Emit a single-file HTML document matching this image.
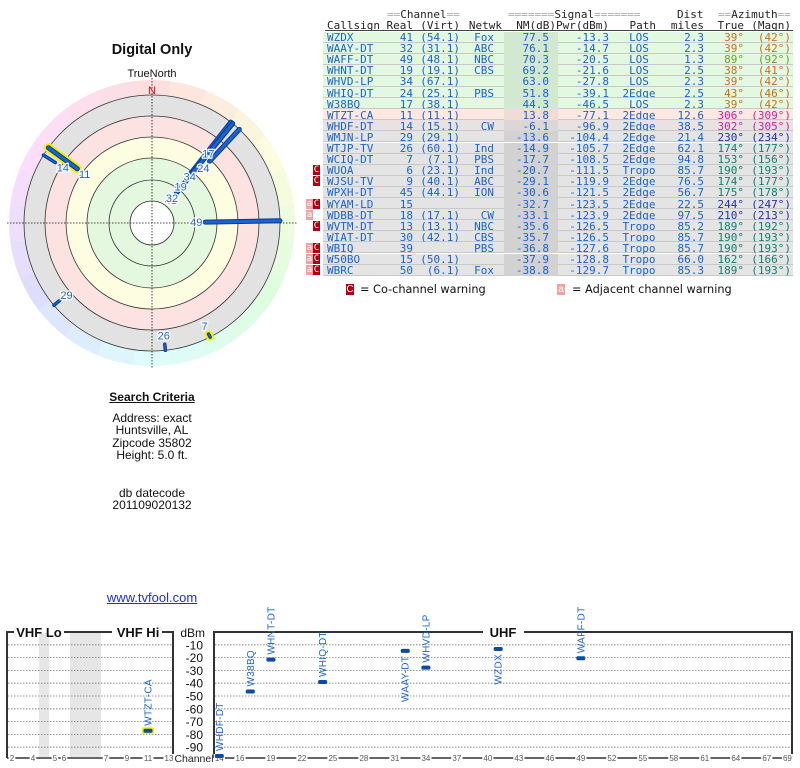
<!DOCTYPE html>
<html><head><meta charset="utf-8">
<style>
body{margin:0;background:#fff;width:800px;height:768px;position:relative;overflow:hidden;font-family:"Liberation Sans",sans-serif}
.c{position:absolute;text-align:center;width:300px;left:2px;font-size:12px;color:#111}
svg{position:absolute;left:0;top:0}
.cell{position:absolute;white-space:pre}
</style></head>
<body>
<div class="c" style="top:42px;font-size:14.5px;font-weight:bold">Digital Only</div>
<div class="c" style="top:390px;font-weight:bold"><span style="text-decoration:underline">Search Criteria</span></div>
<div class="c" style="top:412px;line-height:12.4px">Address: exact<br>Huntsville, AL<br>Zipcode 35802<br>Height: 5.0 ft.</div>
<div class="c" style="top:487px;line-height:12.4px">db datecode<br>201109020132</div>
<div class="c" style="top:590px;font-size:13px"><span style="color:#2030d0;text-decoration:underline">www.tvfool.com</span></div>

<svg id="polar" width="800" height="768"></svg>

<div id="table"></div>

<div style="position:absolute;left:346px;top:284px;width:8px;height:11px;background:#b00010;color:#fff;font-size:10px;line-height:11px;text-align:center">C</div>
<div style="position:absolute;left:360px;top:283px;font-size:11.3px;color:#111;font-family:'DejaVu Sans',sans-serif">= Co-channel warning</div>
<div style="position:absolute;left:557px;top:284px;width:8px;height:11px;background:#f4a0a0;color:#fff;font-size:10px;line-height:11px;text-align:center">a</div>
<div style="position:absolute;left:572px;top:283px;font-size:11.3px;color:#111;font-family:'DejaVu Sans',sans-serif">= Adjacent channel warning</div>

<svg id="spec" width="800" height="768"></svg>

<script>
// ===== Table data =====
const callsigns=["WZDX","WAAY-DT","WAFF-DT","WHNT-DT","WHVD-LP","WHIQ-DT","W38BQ","WTZT-CA","WHDF-DT","WMJN-LP","WTJP-TV","WCIQ-DT","WUOA","WJSU-TV","WPXH-DT","WYAM-LD","WDBB-DT","WVTM-DT","WIAT-DT","WBIQ","W50BO","WBRC"];
const realCh=[41,32,49,19,34,24,17,11,14,29,26,7,6,9,45,15,18,13,30,39,15,50];
const virtCh=["(54.1)","(31.1)","(48.1)","(19.1)","(67.1)","(25.1)","(38.1)","(11.1)","(15.1)","(29.1)","(60.1)","(7.1)","(23.1)","(40.1)","(44.1)","","(17.1)","(13.1)","(42.1)","","(50.1)","(6.1)"];
const netwk=["Fox","ABC","NBC","CBS","","PBS","","","CW","","Ind","PBS","Ind","ABC","ION","","CW","NBC","CBS","PBS","","Fox"];
const nmDb=[77.5,76.1,70.3,69.2,63.0,51.8,44.3,13.8,-6.1,-13.6,-14.9,-17.7,-20.7,-29.1,-30.6,-32.7,-33.1,-35.6,-35.7,-36.8,-37.9,-38.8];
const pwrDbm=[-13.3,-14.7,-20.5,-21.6,-27.8,-39.1,-46.5,-77.1,-96.9,-104.4,-105.7,-108.5,-111.5,-119.9,-121.5,-123.5,-123.9,-126.5,-126.5,-127.6,-128.8,-129.7];
const pathT=["LOS","LOS","LOS","LOS","LOS","2Edge","LOS","2Edge","2Edge","2Edge","2Edge","2Edge","Tropo","2Edge","2Edge","2Edge","2Edge","Tropo","Tropo","Tropo","Tropo","Tropo"];
const distMi=["2.3","2.3","1.3","2.5","2.3","2.5","2.3","12.6","38.5","21.4","62.1","94.8","85.7","76.5","56.7","22.5","97.5","85.2","85.7","85.7","66.0","85.3"];
const azTrue=[39,39,89,38,39,43,39,306,302,230,174,153,190,174,175,244,210,189,190,190,162,189];
const azMagn=[42,42,92,41,42,46,42,309,305,234,177,156,193,177,178,247,213,192,193,193,166,193];
const warnA=[0,0,0,0,0,0,0,0,0,0,0,0,0,0,0,1,1,0,0,1,1,1];
const warnC=[0,0,0,0,0,0,0,0,0,0,0,0,1,1,0,1,0,1,0,1,1,1];

function azColor(a){
  if(a<60) return a>=43?"#c07010":"#c87020";
  if(a<120) return "#70a020";
  if(a<200) return "#108070";
  if(a<260) return "#2830a8";
  return "#d020a0";
}
const tb=document.getElementById('table');
function add(parent,html,style,name){const d=document.createElement('div');d.className='cell';d.style.cssText=style;d.innerHTML=html;


parent.appendChild(d);return d;}
const MONO='font-family:"DejaVu Sans Mono","Liberation Mono",monospace;font-size:11px;';
const H='position:absolute;'+MONO+'color:#222;white-space:pre;line-height:11px;';
add(tb,'<span style="color:#aaa">==</span>Channel<span style="color:#aaa">==</span>',H+'left:387px;top:9px','channel-header');
add(tb,'<span style="color:#aaa">=======</span>Signal<span style="color:#aaa">=======</span>',H+'left:508px;top:9px','signal-header');
add(tb,'Dist',H+'left:677px;top:9px','dist-header');
add(tb,'<span style="color:#aaa">==</span>Azimuth<span style="color:#aaa">==</span>',H+'left:718px;top:9px','azimuth-header');
add(tb,'Callsign',H+'left:327px;top:20px','callsign-header');
const hdr2=[["Real",413],["(Virt)",460],["Netwk",502],["NM(dB)",556],["Pwr(dBm)",609],["Path",656],["miles",704],["True",744],["(Magn)",791]];
hdr2.forEach(h=>add(tb,h[0],H+'top:20px;right:'+(800-h[1])+'px','col-header'));
add(tb,'',`position:absolute;left:325px;top:30px;width:468px;height:1px;background:#444`,'header-rule');
const top0=31.5,rh=11.1;
callsigns.forEach((cs,i)=>{
  const y=top0+i*rh;
  const green=i<7, pink=i===7, pg=i===8;
  const bg=green?"#e2f8e0":pink?"#fde8e2":pg?"#e8e2e2":"#e4e4e4";
  const nmbg=green?"#d2e8d0":pink?"#f0dcd6":pg?"#dcd6d6":"#d2d2d2";
  add(tb,'',`position:absolute;left:323px;top:${y}px;width:470px;height:${rh-1}px;background:${bg};border-bottom:1px solid #c8c8c8`,'table-row');
  add(tb,'',`position:absolute;left:504px;top:${y}px;width:54px;height:${rh}px;background:${nmbg}`,'nm-cell-bg');
  const F='position:absolute;'+MONO+'line-height:11px;color:#1a62d0;white-space:pre;top:'+(y+0.5)+'px;';
  add(tb,cs,F+'left:327px','callsign');
  add(tb,String(realCh[i]),F+'right:'+(800-413)+'px','real-channel');
  add(tb,virtCh[i],F+'right:'+(800-460)+'px','virtual-channel');
  add(tb,netwk[i],F+'right:'+(800-494)+'px','network');
  add(tb,nmDb[i].toFixed(1),F+'right:'+(800-549)+'px','noise-margin');
  add(tb,pwrDbm[i].toFixed(1),F+'right:'+(800-609)+'px','power');
  add(tb,pathT[i],F+'left:'+(639-pathT[i].length*3.31)+'px','path');
  add(tb,distMi[i],F+'right:'+(800-704)+'px','distance');
  const col=azColor(azTrue[i]);
  add(tb,azTrue[i]+'°',F+'right:'+(800-744)+'px;color:'+col,'azimuth-true');
  add(tb,'('+azMagn[i]+'°)',F+'right:'+(800-791)+'px;color:'+col,'azimuth-magnetic');
  if(warnC[i]) add(tb,'C',`position:absolute;left:313px;top:${y+0.5}px;width:7px;height:10px;background:#b00010;color:#fff;font-size:9px;line-height:10px;text-align:center;font-family:"DejaVu Sans Mono",monospace`,'cochannel-warning');
  if(warnA[i]) add(tb,'a',`position:absolute;left:306px;top:${y+0.5}px;width:7px;height:10px;background:#f4a0a0;color:#fff;font-size:9px;line-height:10px;text-align:center;font-family:"DejaVu Sans Mono",monospace`,'adjacent-warning');
});

// ===== Polar plot =====
const polarCh=[41,32,49,19,34,24,17,11,14,29,26,7];
const polarNm=[77.5,76.1,70.3,69.2,63.0,51.8,44.3,13.8,-6.1,-13.6,-14.9,-17.7];
const polarAz=[39,39,89,38,39,43,39,306,302,230,174,153];
const polarVhf=[0,0,0,0,0,0,0,1,0,0,0,1];
const NS="http://www.w3.org/2000/svg";
const P=document.getElementById('polar');
function el(parent,tag,attrs){const e=document.createElementNS(NS,tag);for(const k in attrs)e.setAttribute(k,attrs[k]);parent.appendChild(e);return e;}
const cx=152,cy=223;
const rDom=[80,76,69,63,52,44,14,-6,-14,-20];
const rRng=[35,41,56,69,84,99,92,114,121,127];
function rScale(nm){
  if(nm>=rDom[0])return rRng[0];
  for(let k=0;k<rDom.length-1;k++){if(nm<=rDom[k]&&nm>=rDom[k+1]){const t=(rDom[k]-nm)/(rDom[k]-rDom[k+1]);return rRng[k]+t*(rRng[k+1]-rRng[k]);}}
  return rRng[rRng.length-1];
}
function pt(az,r){const a=az*Math.PI/180;return [cx+r*Math.sin(a),cy-r*Math.cos(a)];}
for(let k=0;k<24;k++){
  const a0=k*15-7.5,a1=k*15+7.5;
  const p0=pt(a0,143),p1=pt(a1,143);
  const w=el(P,'path',{d:`M${cx},${cy}L${p0[0]},${p0[1]}A143,143 0 0 1 ${p1[0]},${p1[1]}Z`,fill:`hsl(${(k*15)%360},85%,93%)`});
  
  
}
const fills=[[128,"#e2e2e2"],[107,"#fde2e2"],[86,"#fdfde2"],[65,"#e4f8e0"],[22,"#ffffff"]];
fills.forEach(f=>{const c=el(P,'circle',{cx,cy,r:f[0],fill:f[1]});});
[128,107,86,65,43,22].forEach(r=>{const c=el(P,'circle',{cx,cy,r,fill:'none',stroke:'#333','stroke-width':0.8});});
let ln=el(P,'line',{x1:7,y1:cy,x2:297,y2:cy,stroke:'#111','stroke-width':0.8,'stroke-dasharray':'1.5,1.5'});

ln=el(P,'line',{x1:cx,y1:78,x2:cx,y2:368,stroke:'#111','stroke-width':0.8,'stroke-dasharray':'1.5,1.5'});

let tx=el(P,'text',{x:cx,y:77,'text-anchor':'middle','font-size':11,fill:'#111','font-family':'Liberation Sans'});tx.textContent='TrueNorth';

tx=el(P,'text',{x:cx,y:94,'text-anchor':'middle','font-size':11,fill:'#e01010','font-family':'Liberation Sans'});tx.textContent='N';

const order=polarCh.map((_,i)=>i).reverse();
order.forEach(i=>{
  const r0=rScale(polarNm[i]),r1=128;
  const a=pt(polarAz[i],r0),b=pt(polarAz[i],r1);
  const w=polarNm[i]>0?5:3.5;
  const g=el(P,'g',{});
  
  
  if(polarVhf[i]) el(g,'line',{x1:a[0],y1:a[1],x2:b[0],y2:b[1],stroke:'#f0f000','stroke-width':w+4,'stroke-linecap':'round'});
  el(g,'line',{x1:a[0],y1:a[1],x2:b[0],y2:b[1],stroke:'#0a3a90','stroke-width':w,'stroke-linecap':'round'});
  el(g,'line',{x1:a[0],y1:a[1],x2:b[0],y2:b[1],stroke:'#1a64d0','stroke-width':w-2,'stroke-linecap':'round'});
});
polarCh.forEach((ch,i)=>{
  const r0=rScale(polarNm[i]);
  const p=pt(polarAz[i],r0-9);
  const t=el(P,'text',{x:p[0],y:p[1]+4,'text-anchor':'middle','font-size':11,fill:'#1a62d0','font-family':'Liberation Sans',stroke:'#fff','stroke-width':2.5,'paint-order':'stroke'});
  t.textContent=String(ch);
  
  
});

// ===== Spectrum chart =====
const vhfNames=["WTZT-CA"];
const vhfCh=[11];
const vhfDbm=[-77.1];
const uhfNames=["WHDF-DT","W38BQ","WHNT-DT","WHIQ-DT","WAAY-DT","WHVD-LP","WZDX","WAFF-DT"];
const uhfCh=[14,17,19,24,32,34,41,49];
const uhfDbm=[-96.9,-46.5,-21.6,-39.1,-14.7,-27.8,-13.3,-20.5];
const dbmTicks=[-10,-20,-30,-40,-50,-60,-70,-80,-90];
const vhfTicks=[2,4,5,6,7,9,11,13];
const uhfTicks=[14,16,19,22,25,28,31,34,37,40,43,46,49,52,55,58,61,64,67,69];
const S=document.getElementById('spec');
function yS(d){return 632+(-d)*1.28;}
function xU(ch){return 219.3+(ch-14)*10.33;}
const vDom=[2,4,5,6,7,13], vRng=[12,33,55,64,106,169];
function xV(ch){for(let k=0;k<vDom.length-1;k++){if(ch>=vDom[k]&&ch<=vDom[k+1]){return vRng[k]+(ch-vDom[k])/(vDom[k+1]-vDom[k])*(vRng[k+1]-vRng[k]);}}return vRng[vRng.length-1];}
[[39,49],[70,101]].forEach(b=>{const r=el(S,'rect',{x:b[0],y:633,width:b[1]-b[0],height:124,fill:'#e6e6e6'});});
dbmTicks.forEach(d=>{
  const y=yS(d);
  let g=el(S,'line',{x1:8,y1:y,x2:172,y2:y,stroke:'#777','stroke-width':0.8,'stroke-dasharray':'1.5,1.5'});
  
  g=el(S,'line',{x1:215,y1:y,x2:791,y2:y,stroke:'#777','stroke-width':0.8,'stroke-dasharray':'1.5,1.5'});
  
  const t=el(S,'text',{x:203,y:y+4.5,'text-anchor':'end','font-size':12,fill:'#111','font-family':'Liberation Sans'});
  t.textContent=String(d);
  
});
let t2=el(S,'text',{x:205,y:637,'text-anchor':'end','font-size':12,fill:'#111','font-family':'Liberation Sans'});t2.textContent='dBm';

const B={stroke:'#333','stroke-width':2,fill:'none'};
[[`M7,758V632H14`,'vhf-border'],[`M64,632H112`,'vhf-border'],[`M162,632H173V758`,'vhf-border'],[`M214,758V632H483`,'uhf-border'],[`M524,632H792V758`,'uhf-border']].forEach(p=>{const e=el(S,'path',Object.assign({d:p[0]},B));});
[["VHF Lo",39],["VHF Hi",138],["UHF",503]].forEach(s=>{const e=el(S,'text',{x:s[1],y:637,'text-anchor':'middle','font-size':13,'font-weight':'bold',fill:'#111','font-family':'Liberation Sans'});e.textContent=s[0];});
let ax=el(S,'line',{x1:7,y1:758,x2:173,y2:758,stroke:'#333','stroke-width':1.5});
ax=el(S,'line',{x1:214,y1:758,x2:792,y2:758,stroke:'#333','stroke-width':1.5});
function tickLabel(x,s){
  const w=s.length*4.6+2;
  const r=el(S,'rect',{x:x-w/2,y:754,width:w,height:8,fill:'#fff'});
  
  const t=el(S,'text',{x:x,y:761,'text-anchor':'middle','font-size':8,fill:'#555','font-family':'Liberation Sans'});
  t.textContent=s;
}
vhfTicks.forEach(c=>tickLabel(xV(c),String(c)));
uhfTicks.forEach(c=>tickLabel(xU(c),String(c)));
let rr=el(S,'rect',{x:176,y:752,width:37,height:12,fill:'#fff'});
t2=el(S,'text',{x:194,y:762,'text-anchor':'middle','font-size':10.5,fill:'#222','font-family':'Liberation Sans'});t2.textContent='Channel';

function marker(x,d,name,vhf){
  const y=yS(d);
  const g=el(S,'g',{});
  
  
  if(vhf) el(g,'rect',{x:x-6,y:y-3.5,width:12,height:7,rx:1.5,fill:'#f0f000'});
  el(g,'rect',{x:x-4.5,y:y-2,width:9,height:4,rx:1.5,fill:'#0a4aa8'});
  const below=d>-16;
  const ly=below?y+5:y-5;
  const t=el(g,'text',{x:0,y:0,transform:`translate(${x+3.5},${ly}) rotate(-90)`,'text-anchor':below?'end':'start','font-size':10,fill:'#1a62d0','font-family':'Liberation Sans','letter-spacing':'0.3'});
  t.textContent=name;
}
vhfNames.forEach((n,i)=>marker(xV(vhfCh[i]),vhfDbm[i],n,true));
uhfNames.forEach((n,i)=>marker(xU(uhfCh[i]),uhfDbm[i],n,false));
</script>
</body></html>
